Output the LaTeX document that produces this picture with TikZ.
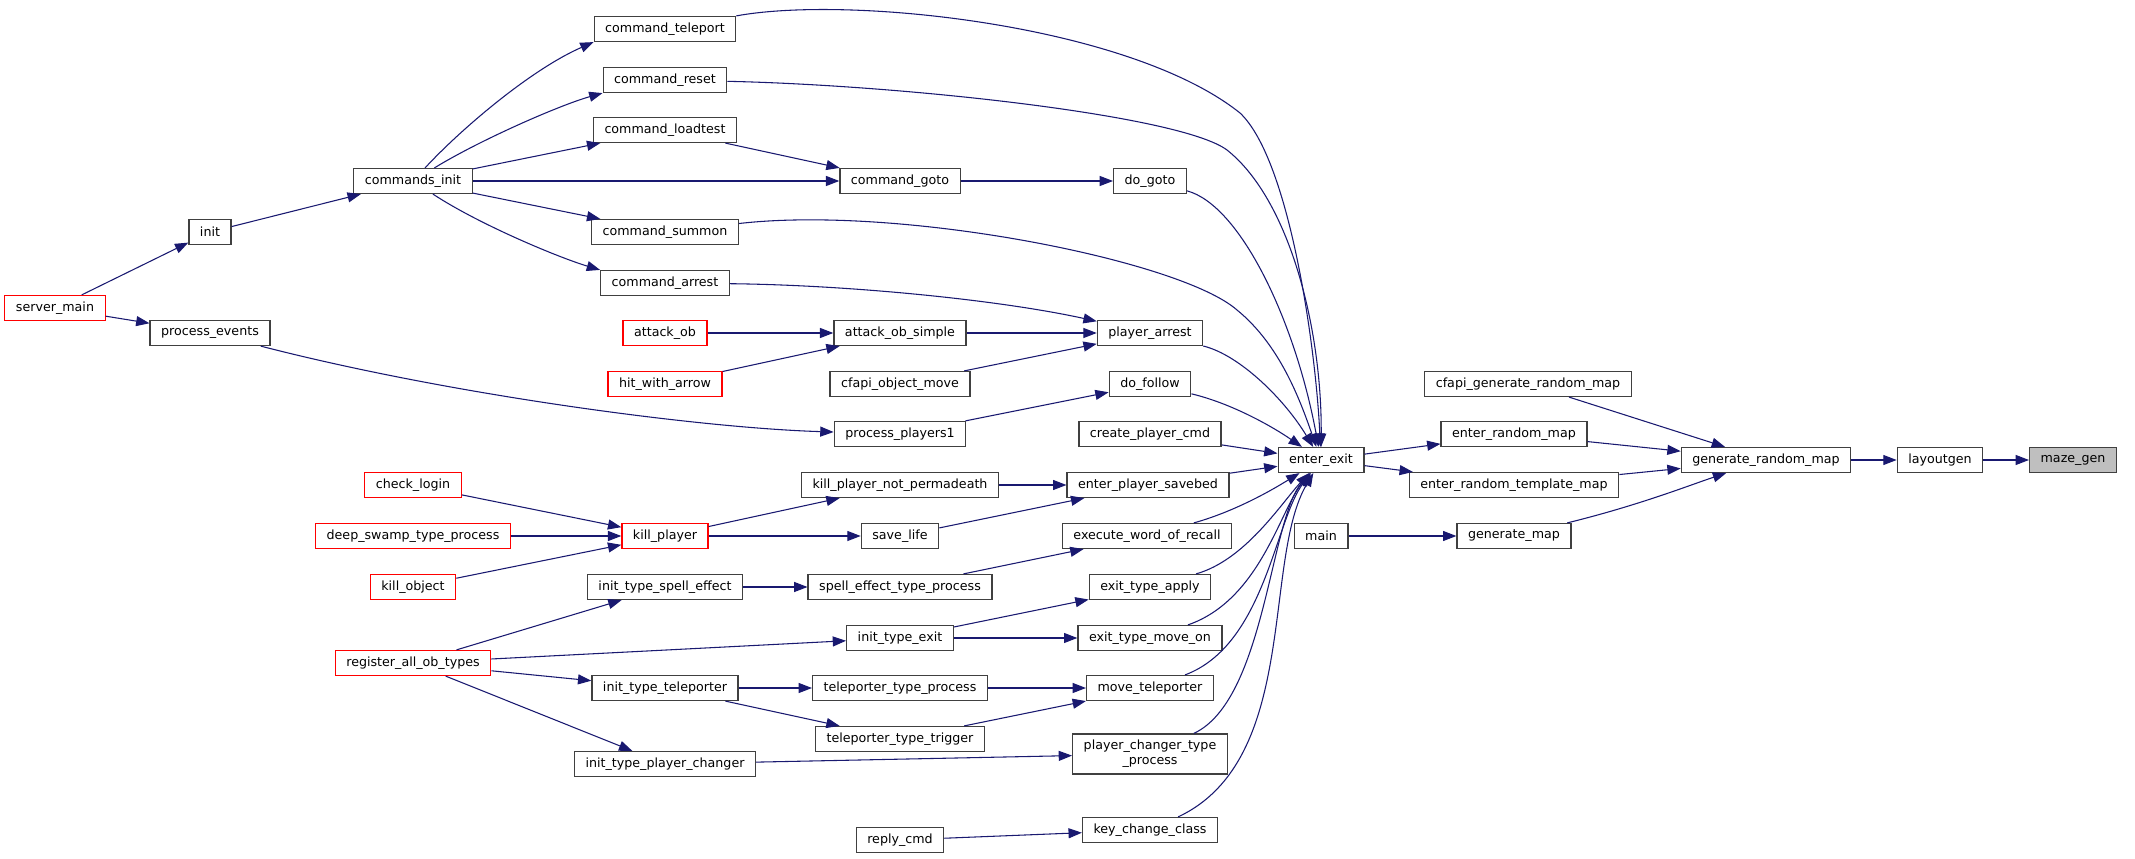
\documentclass[tikz,border=0pt]{standalone}
\usepackage{fontspec}
\setmainfont{DejaVu Sans}
\usepackage{tikz}
\usetikzlibrary{arrows.meta}
\definecolor{edgeblue}{HTML}{191970}
\definecolor{boxgray}{HTML}{404040}
\definecolor{boxred}{HTML}{FF0000}
\definecolor{selgray}{HTML}{BFBFBF}
\begin{document}
\begin{tikzpicture}[x=0.75pt,y=-0.75pt,
  fn/.style={draw=boxgray,line width=0.9pt,fill=white,rectangle,minimum height=18.75pt,inner xsep=8.3pt,inner ysep=1pt,font=\fontsize{9.5pt}{11pt}\selectfont},
  fnred/.style={fn,draw=boxred},
  fnsel/.style={fn,fill=selgray},
  call/.style={draw=edgeblue,line width=0.8pt,-{Triangle[length=10pt,width=7.5pt]}}]
  \useasboundingbox (0,0) rectangle (2135,859);
  \node[fn] (teleport) at (665,29) {command\_teleport};
  \node[fn] (reset) at (665,80) {command\_reset};
  \node[fn] (loadtest) at (665,130) {command\_loadtest};
  \node[fn] (cinit) at (413,181) {commands\_init};
  \node[fn] (init) at (210,232) {init};
  \node[fn] (goto) at (900,181) {command\_goto};
  \node[fn] (dogoto) at (1150,181) {do\_goto};
  \node[fn] (summon) at (665,232) {command\_summon};
  \node[fn] (arrest) at (665,283) {command\_arrest};
  \node[fnred] (smain) at (55,308) {server\_main};
  \node[fn] (pevents) at (210,333) {process\_events};
  \node[fnred] (attackob) at (665,333) {attack\_ob};
  \node[fn] (aosimple) at (900,333) {attack\_ob\_simple};
  \node[fn] (parrest) at (1150,333) {player\_arrest};
  \node[fnred] (hitarrow) at (665,384) {hit\_with\_arrow};
  \node[fn] (objmove) at (900,384) {cfapi\_object\_move};
  \node[fn] (dofollow) at (1150,384) {do\_follow};
  \node[fn] (pplayers) at (900,434) {process\_players1};
  \node[fn] (createcmd) at (1150,434) {create\_player\_cmd};
  \node[fn] (enterexit) at (1321,460) {enter\_exit};
  \node[fnred] (checklogin) at (413,485) {check\_login};
  \node[fn] (notperma) at (900,485) {kill\_player\_not\_permadeath};
  \node[fn] (savebed) at (1148,485) {enter\_player\_savebed};
  \node[fnred] (swamp) at (413,536) {deep\_swamp\_type\_process};
  \node[fnred] (killplayer) at (665,536) {kill\_player};
  \node[fn] (savelife) at (900,536) {save\_life};
  \node[fn] (recall) at (1147,536) {execute\_word\_of\_recall};
  \node[fnred] (killobj) at (413,587) {kill\_object};
  \node[fn] (spellinit) at (665,587) {init\_type\_spell\_effect};
  \node[fn] (spellproc) at (900,587) {spell\_effect\_type\_process};
  \node[fn] (exitapply) at (1150,587) {exit\_type\_apply};
  \node[fn] (exitinit) at (900,638) {init\_type\_exit};
  \node[fn] (moveon) at (1150,638) {exit\_type\_move\_on};
  \node[fnred] (regtypes) at (413,663) {register\_all\_ob\_types};
  \node[fn] (telinit) at (665,688) {init\_type\_teleporter};
  \node[fn] (telproc) at (900,688) {teleporter\_type\_process};
  \node[fn] (moveteleport) at (1150,688) {move\_teleporter};
  \node[fn] (teltrigger) at (900,739) {teleporter\_type\_trigger};
  \node[fn] (pcinit) at (665,764) {init\_type\_player\_changer};
  \node[fn,align=center,minimum height=30pt] (pcproc) at (1150,754) {player\_changer\_type\\\_process};
  \node[fn] (replycmd) at (900,840) {reply\_cmd};
  \node[fn] (keychange) at (1150,830) {key\_change\_class};
  \node[fn] (cfapimap) at (1528,384) {cfapi\_generate\_random\_map};
  \node[fn] (randmap) at (1514,434) {enter\_random\_map};
  \node[fn] (templmap) at (1514,485) {enter\_random\_template\_map};
  \node[fn] (mainfn) at (1321,536) {main};
  \node[fn] (genmap) at (1514,536) {generate\_map};
  \node[fn] (genrandom) at (1766,460) {generate\_random\_map};
  \node[fn] (layoutgen) at (1940,460) {layoutgen};
  \node[fnsel] (mazegen) at (2073,460) {maze\_gen};

  \draw[call] (smain) -- (init);
  \draw[call] (smain) -- (pevents);
  \draw[call] (init) -- (cinit);
  \draw[call] (cinit) .. controls (460,130) and (530,70) .. (teleport.south west);
  \draw[call] (cinit) .. controls (480,140) and (560,105) .. (reset.south west);
  \draw[call] (cinit) -- (loadtest);
  \draw[call] (cinit) -- (goto);
  \draw[call] (cinit) -- (summon);
  \draw[call] (cinit) .. controls (480,225) and (560,258) .. (arrest.north west);
  \draw[call] (loadtest) -- (goto);
  \draw[call] (goto) -- (dogoto);
  \draw[call] (arrest) .. controls (850,285) and (1000,300) .. (parrest);
  \draw[call] (attackob) -- (aosimple);
  \draw[call] (hitarrow) -- (aosimple);
  \draw[call] (aosimple) -- (parrest);
  \draw[call] (objmove) -- (parrest);
  \draw[call] (pevents) .. controls (450,395) and (700,428) .. (pplayers);
  \draw[call] (pplayers) -- (dofollow);
  \draw[call] (checklogin) -- (killplayer);
  \draw[call] (swamp) -- (killplayer);
  \draw[call] (killobj) -- (killplayer);
  \draw[call] (killplayer) -- (notperma);
  \draw[call] (killplayer) -- (savelife);
  \draw[call] (notperma) -- (savebed);
  \draw[call] (savelife) -- (savebed);
  \draw[call] (spellinit) -- (spellproc);
  \draw[call] (spellproc) -- (recall);
  \draw[call] (regtypes) -- (spellinit);
  \draw[call] (regtypes) -- (exitinit);
  \draw[call] (regtypes) -- (telinit);
  \draw[call] (regtypes) -- (pcinit);
  \draw[call] (exitinit) -- (exitapply);
  \draw[call] (exitinit) -- (moveon);
  \draw[call] (telinit) -- (telproc);
  \draw[call] (telinit) -- (teltrigger);
  \draw[call] (telproc) -- (moveteleport);
  \draw[call] (teltrigger) -- (moveteleport);
  \draw[call] (pcinit) -- (pcproc);
  \draw[call] (replycmd) -- (keychange);

  \draw[call] (teleport) .. controls (850,-5) and (1130,25) .. (1240,113) .. controls (1290,160) and (1316,350) .. (enterexit);
  \draw[call] (reset) .. controls (900,85) and (1180,115) .. (1227,150) .. controls (1290,200) and (1322,330) .. (enterexit);
  \draw[call] (dogoto) .. controls (1240,205) and (1295,320) .. (enterexit);
  \draw[call] (summon) .. controls (900,205) and (1180,260) .. (1237,310) .. controls (1280,345) and (1300,400) .. (enterexit);
  \draw[call] (parrest) .. controls (1240,355) and (1285,400) .. (enterexit);
  \draw[call] (dofollow) .. controls (1230,403) and (1270,425) .. (enterexit);
  \draw[call] (createcmd) -- (enterexit);
  \draw[call] (savebed) -- (enterexit);
  \draw[call] (recall) .. controls (1240,510) and (1280,485) .. (enterexit);
  \draw[call] (exitapply) .. controls (1245,560) and (1280,505) .. (enterexit);
  \draw[call] (moveon) .. controls (1260,600) and (1280,510) .. (enterexit);
  \draw[call] (moveteleport) .. controls (1265,645) and (1275,520) .. (enterexit);
  \draw[call] (pcproc) .. controls (1265,700) and (1270,520) .. (enterexit);
  \draw[call] (keychange) .. controls (1300,760) and (1262,560) .. (enterexit);

  \draw[call] (enterexit) -- (randmap);
  \draw[call] (enterexit) -- (templmap);
  \draw[call] (cfapimap) -- (genrandom);
  \draw[call] (randmap) -- (genrandom);
  \draw[call] (templmap) -- (genrandom);
  \draw[call] (mainfn) -- (genmap);
  \draw[call] (genmap) .. controls (1640,505) and (1690,485) .. (genrandom);
  \draw[call] (genrandom) -- (layoutgen);
  \draw[call] (layoutgen) -- (mazegen);
\end{tikzpicture}
\end{document}
